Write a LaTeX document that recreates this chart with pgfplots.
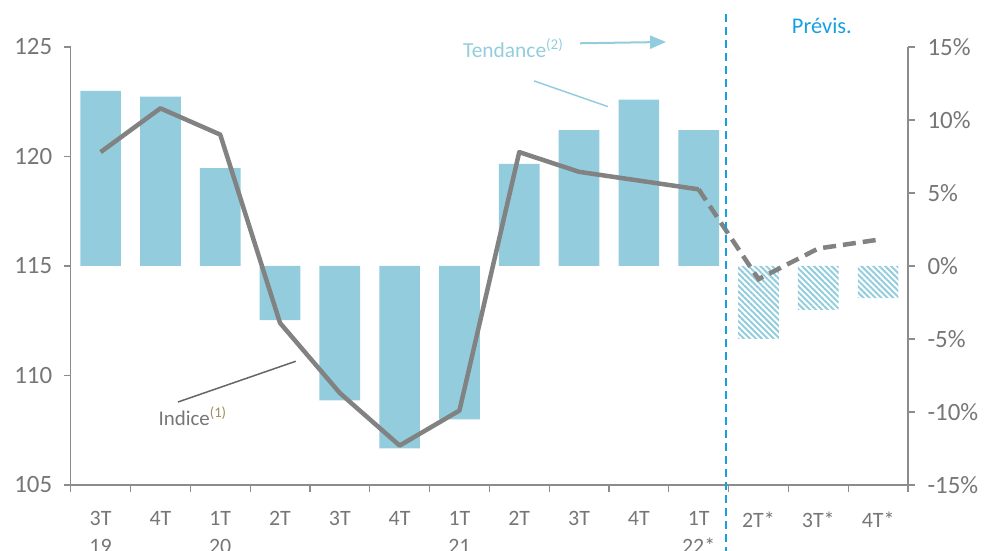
\documentclass[border=0pt]{standalone}
\usepackage{fontspec}
\setmainfont{Carlito}
\usepackage{pgfplots}
\pgfplotsset{compat=1.18}
\usetikzlibrary{patterns.meta, arrows.meta}

\definecolor{barblue}{RGB}{147,205,221}
\definecolor{linegray}{RGB}{130,130,130}
\definecolor{axisgray}{RGB}{140,140,140}
\definecolor{txtgray}{RGB}{118,118,118}
\definecolor{prevblue}{RGB}{22,160,226}
\definecolor{tan}{RGB}{160,140,95}

\begin{document}
\begin{tikzpicture}
\useasboundingbox (-70.7bp,-66bp) rectangle (916.3bp,485bp);
\pgfplotsset{
  base/.style={
    scale only axis, width=837.3bp, height=438bp,
    xmin=0, xmax=14, clip=false,
    tick align=outside, major tick length=7bp,
    every tick/.style={axisgray, line width=1.2pt},
    axis line style={axisgray, line width=1.2pt},
    tick label style={text=txtgray},
    yticklabel style={font=\fontsize{25}{30}\selectfont},
    xticklabel style={font=\fontsize{22}{28}\selectfont},
  }
}

% right axis: tendance (%), bars
\begin{axis}[base,
  axis x line=none, axis y line*=right,
  ymin=-15, ymax=15, ytick={-15,-10,...,15},
  yticklabels={-15\%,-10\%,-5\%,0\%,5\%,10\%,15\%},
  yticklabel style={xshift=9bp},
]
\addplot[ybar, bar width=40.7bp, bar shift=0pt, fill=barblue, draw=none]
  coordinates {(0.5,12.0) (1.5,11.6) (2.5,6.7) (3.5,-3.7) (4.5,-9.2) (5.5,-12.5)
               (6.5,-10.5) (7.5,7.0) (8.5,9.3) (9.5,11.4) (10.5,9.3)};
\addplot[ybar, bar width=40.7bp, bar shift=0pt, draw=none,
  pattern={Lines[angle=-45, distance=4.2bp, line width=2bp]}, pattern color=barblue]
  coordinates {(11.5,-5.0) (12.5,-3.0) (13.5,-2.2)};
\end{axis}

% left axis: indice, line
\begin{axis}[base,
  axis x line*=bottom, axis y line*=left,
  ymin=105, ymax=125, ytick={105,110,...,125},
  yticklabels={105,110,115,120,125},
  yticklabel style={xshift=-8bp},
  xtick={0,...,14}, x tick label as interval,
  xticklabels={{3T\\19},4T,{1T\\20},2T,3T,4T,{1T\\21},2T,3T,4T,{1T\\22*},2T*,3T*,4T*},
  xticklabel style={align=center, yshift=-16bp},
]
\addplot[linegray, line width=4.5bp, line join=round]
  coordinates {(0.5,120.2) (1.5,122.2) (2.5,121.0) (3.5,112.4) (4.5,109.2) (5.5,106.8)
               (6.5,108.4) (7.5,120.2) (8.5,119.3) (9.5,118.9) (10.5,118.5)};
\addplot[linegray, line width=4.5bp, dash pattern=on 13bp off 7bp]
  coordinates {(10.5,118.5) (11.5,114.4) (12.5,115.8) (13.5,116.2)};

% forecast separator
\draw[prevblue, line width=2bp, dash pattern=on 8bp off 5bp]
  (axis cs:10.95,126.5) -- (axis cs:10.95,101.5);
\node[prevblue, font=\fontsize{22.5}{26}\selectfont] at (axis cs:12.56,125.95) {Prévis.};

% annotations
\node[anchor=base west, inner sep=0, text=barblue, font=\fontsize{21.5}{26}\selectfont]
  at (axis cs:6.56,124.54) {Tendance\textsuperscript{(2)}};
\draw[barblue, line width=2bp, -{Triangle[length=16bp, width=13bp]}]
  (axis cs:8.517,125.17) -- (axis cs:9.955,125.23);
\draw[barblue, line width=1.5bp] (axis cs:7.748,123.45) -- (axis cs:8.98,122.28);

\node[anchor=base west, inner sep=0, text=txtgray, font=\fontsize{21}{26}\selectfont]
  at (axis cs:1.465,107.73) {Indice\textsuperscript{\textcolor{tan}{(1)}}};
\draw[black!60, line width=1.5bp] (axis cs:1.794,108.79) -- (axis cs:3.763,110.65);
\end{axis}
\end{tikzpicture}
\end{document}
